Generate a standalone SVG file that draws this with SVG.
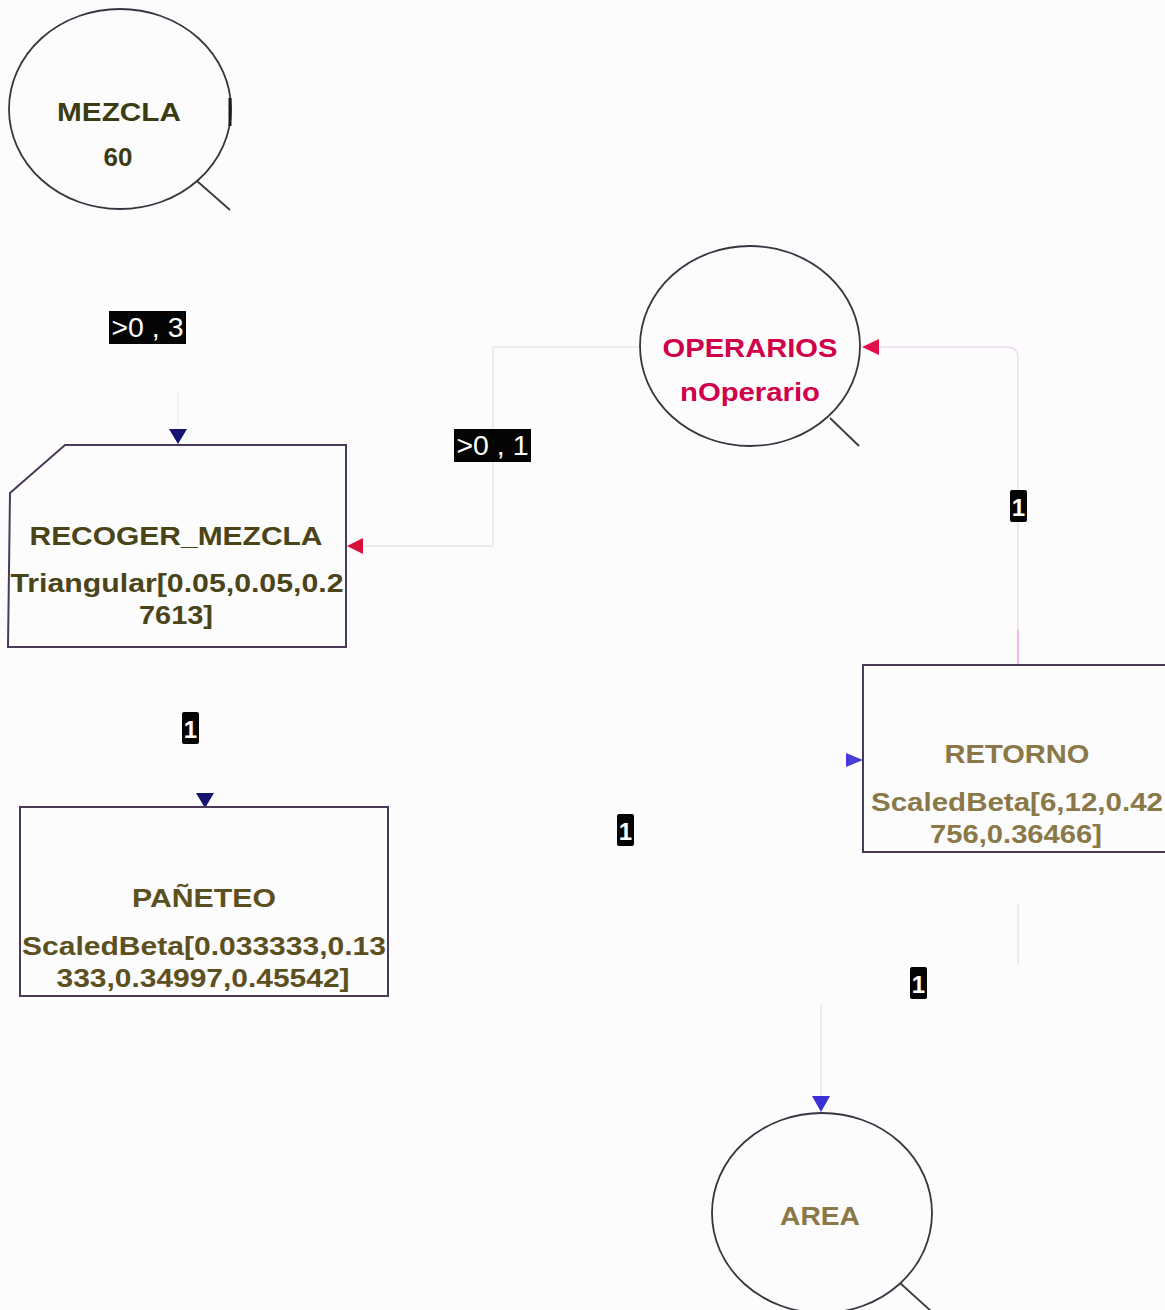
<svg xmlns="http://www.w3.org/2000/svg" width="1165" height="1310" viewBox="0 0 1165 1310">
  <style>
    .node { fill: none; stroke: #3a3440; stroke-width: 1.8; }
    .box { fill: none; stroke: #4a3a58; stroke-width: 2; }
    .tail { stroke: #3a3a3a; stroke-width: 1.8; }
    .t { font-family: "Liberation Sans", Arial, sans-serif; font-weight: bold; font-size: 26px; text-anchor: middle; dominant-baseline: central; }
    .dark { fill: #3c3c12; }
    .olive { fill: #4a4418; }
    .pan { fill: #5c5020; }
    .ret { fill: #8a7848; }
    .red { fill: #d0004a; }
    .conn { fill: none; stroke: #e6e6ea; stroke-width: 1.5; }
    .connP { fill: none; stroke: #eedaf0; stroke-width: 1.5; }
    .badge { fill: #050505; }
    .bt { font-family: "Liberation Sans", Arial, sans-serif; font-size: 27px; fill: #ffffff; text-anchor: middle; dominant-baseline: central; }
    .bn { font-family: "Liberation Sans", Arial, sans-serif; font-weight: bold; font-size: 24px; fill: #ffffff; text-anchor: middle; dominant-baseline: central; }
  </style>
  <rect x="0" y="0" width="1165" height="1310" fill="#fcfcfd"/>

  <!-- connectors -->
  <g id="connectors">
    <line x1="178" y1="390" x2="178" y2="428" stroke="#f0f0f3" stroke-width="1.5"/>
    <path class="conn" d="M640,347 H493 V546 H362"/>
    <path class="connP" d="M1018,664 V358 Q1018,347 1007,347 H878"/>
    <line x1="1018" y1="630" x2="1018" y2="664" stroke="#e8a8ea" stroke-width="1.5"/>
    <line class="conn" x1="1018" y1="905" x2="1018" y2="965"/>
    <line class="conn" x1="821" y1="1005" x2="821" y2="1097"/>
    <!-- arrowheads -->
    <polygon points="169,429 187,429 178,444" fill="#14146e"/>
    <polygon points="196,793 214,793 205,808" fill="#14146e"/>
    <polygon points="363,538 363,554 347,546" fill="#d8103c"/>
    <polygon points="879,339 879,355 862,347" fill="#e0104a"/>
    <path d="M846,753 Q846,760 846,767 L863,760 Z" fill="#4a3ad8"/>
    <polygon points="812,1096 830,1096 821,1112" fill="#3a30d8"/>
    <!-- labels -->
    <rect class="badge" x="109" y="311" width="77" height="33"/>
    <text class="bt" x="147.5" y="328" textLength="72" lengthAdjust="spacingAndGlyphs">&gt;0 , 3</text>
    <rect class="badge" x="454" y="429" width="77" height="33"/>
    <text class="bt" x="492.5" y="446" textLength="72" lengthAdjust="spacingAndGlyphs">&gt;0 , 1</text>
    <rect class="badge" x="1010" y="490" width="17" height="32" rx="2"/>
    <text class="bn" x="1018.5" y="507">1</text>
    <rect class="badge" x="182" y="712" width="17" height="32" rx="2"/>
    <text class="bn" x="190.5" y="729">1</text>
    <rect class="badge" x="617" y="814" width="17" height="32" rx="2"/>
    <text class="bn" x="625.5" y="831">1</text>
    <rect class="badge" x="910" y="967" width="17" height="32" rx="2"/>
    <text class="bn" x="918.5" y="984">1</text>
  </g>

  <g id="MEZCLA">
    <ellipse class="node" cx="120" cy="109" rx="111" ry="100"/>
    <line x1="230" y1="98" x2="230" y2="126" stroke="#1a1a1a" stroke-width="3"/>
    <line class="tail" x1="197" y1="181" x2="230" y2="210"/>
    <text class="t dark" x="119" y="112" textLength="124" lengthAdjust="spacingAndGlyphs">MEZCLA</text>
    <text class="t dark" x="118" y="157">60</text>
  </g>

  <g id="OPERARIOS">
    <ellipse class="node" cx="750" cy="346" rx="110" ry="100"/>
    <line class="tail" x1="830" y1="418" x2="859" y2="446"/>
    <text class="t red" x="750" y="348" textLength="175" lengthAdjust="spacingAndGlyphs">OPERARIOS</text>
    <text class="t red" x="750" y="392" textLength="140" lengthAdjust="spacingAndGlyphs">nOperario</text>
  </g>

  <g id="RECOGER_MEZCLA">
    <polygon class="box" points="10,493 65,445 346,445 346,647 8,647"/>
    <text class="t olive" x="176" y="536" textLength="293" lengthAdjust="spacingAndGlyphs">RECOGER_MEZCLA</text>
    <text class="t olive" x="177" y="583" textLength="333" lengthAdjust="spacingAndGlyphs">Triangular[0.05,0.05,0.2</text>
    <text class="t olive" x="176" y="615" textLength="74" lengthAdjust="spacingAndGlyphs">7613]</text>
  </g>

  <g id="PANETEO">
    <rect class="box" x="20" y="807" width="368" height="189"/>
    <text class="t pan" x="204" y="898" textLength="144" lengthAdjust="spacingAndGlyphs">PAÑETEO</text>
    <text class="t pan" x="204" y="946" textLength="364" lengthAdjust="spacingAndGlyphs">ScaledBeta[0.033333,0.13</text>
    <text class="t pan" x="203" y="978" textLength="293" lengthAdjust="spacingAndGlyphs">333,0.34997,0.45542]</text>
  </g>

  <g id="RETORNO">
    <rect class="box" x="863" y="665" width="320" height="187"/>
    <text class="t ret" x="1017" y="754" textLength="145" lengthAdjust="spacingAndGlyphs">RETORNO</text>
    <text class="t ret" x="1017" y="802" textLength="292" lengthAdjust="spacingAndGlyphs">ScaledBeta[6,12,0.42</text>
    <text class="t ret" x="1016" y="834" textLength="172" lengthAdjust="spacingAndGlyphs">756,0.36466]</text>
  </g>

  <g id="AREA">
    <ellipse class="node" cx="822" cy="1213" rx="110" ry="100"/>
    <line class="tail" x1="900" y1="1283" x2="932" y2="1312"/>
    <text class="t ret" x="820" y="1216" textLength="80" lengthAdjust="spacingAndGlyphs">AREA</text>
  </g>
</svg>
